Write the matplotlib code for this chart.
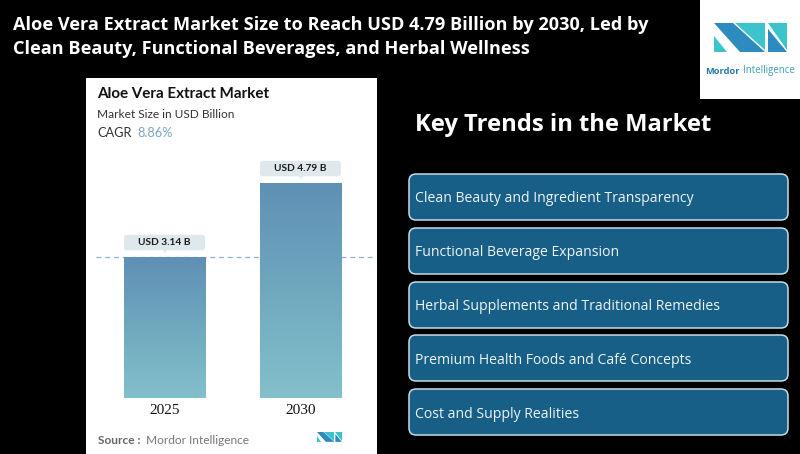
import matplotlib
matplotlib.use('Agg')
import numpy as np
import matplotlib.pyplot as plt
from matplotlib.patches import FancyBboxPatch, Polygon, Rectangle
from matplotlib.colors import LinearSegmentedColormap
from matplotlib.transforms import IdentityTransform

W, H = 800, 454

years = ['2025', '2030']
sizes = [3.14, 4.79]
size_labels = ['USD 3.14 B', 'USD 4.79 B']
trends = [
    'Clean Beauty and Ingredient Transparency',
    'Functional Beverage Expansion',
    'Herbal Supplements and Traditional Remedies',
    'Premium Health Foods and Café Concepts',
    'Cost and Supply Realities',
]
title_lines = [
    'Aloe Vera Extract Market Size to Reach USD 4.79 Billion by 2030, Led by',
    'Clean Beauty, Functional Beverages, and Herbal Wellness',
]
box_tops = [174, 228, 282, 335, 389]

fig = plt.figure(figsize=(W / 100, H / 100), dpi=100, facecolor='black')

# page layer, in image pixels
bg = fig.add_axes([0, 0, 1, 1], zorder=0)
bg.set_xlim(0, W)
bg.set_ylim(H, 0)
bg.axis('off')


def draw_logo(x0, y0, s):
    # logo shapes on a 0-73 x 0-29 grid
    dark, teal = '#2e8bc0', '#3cc4cc'
    shapes = [
        ([(0, 13), (0, 29), (13, 29)], teal),
        ([(21, 0), (51, 0), (51, 27)], teal),
        ([(0, 0), (19, 0), (51, 29), (26, 29)], dark),
        ([(54, 0), (73, 0), (73, 27)], teal),
        ([(54, 6), (73, 29), (54, 29)], dark),
    ]
    for pts, c in shapes:
        bg.add_patch(Polygon([(x0 + px * s, y0 + py * s) for px, py in pts], fc=c, ec='none'))


# white card and logo box
bg.add_patch(Rectangle((86, 78), 291, 376, fc='white', ec='none'))
bg.add_patch(Rectangle((700, 0), 100, 99, fc='white', ec='none'))
draw_logo(714, 23, 1.0)
bg.text(740, 71, 'Mordor', color='#2478a8', fontsize=6.7, fontweight='bold', family='Open Sans',
        ha='right', va='center')
bg.text(743, 71, 'Intelligence', color='#3a9fb8', fontsize=6.9, family='Open Sans', ha='left', va='center')
draw_logo(317, 432, 0.34)

for i, line in enumerate(title_lines):
    bg.text(13, 25 + i * 24, line, color='white', fontsize=13.05, fontweight='bold', family='Open Sans',
            va='center', ha='left')

bg.text(97, 94, 'Aloe Vera Extract Market', color='#111111', fontsize=10.9, fontweight='bold', family='Lato', va='center')
bg.text(97, 115, 'Market Size in USD Billion', color='#333333', fontsize=8.6, family='Lato', va='center')
bg.text(97, 133, 'CAGR', color='#333333', fontsize=9.2, family='Lato', va='center')
bg.text(137, 133, '8.86%', color='#7aa6c2', fontsize=9.2, family='Lato', va='center')
bg.text(98, 440, 'Source :', color='#666666', fontsize=8.6, fontweight='bold', family='Lato', va='center')
bg.text(146, 440, 'Mordor Intelligence', color='#777777', fontsize=8.6, family='Lato', va='center')

bg.text(415, 125, 'Key Trends in the Market', color='white', fontsize=17.1, fontweight='bold',
        family='Open Sans', va='center')

for top, label in zip(box_tops, trends):
    bg.add_patch(FancyBboxPatch((409, top), 379, 46, boxstyle='round,pad=0,rounding_size=7',
                                fc='#175f86', ec='#c5dbe6', lw=1.1))
    bg.text(415, top + 25, label, color='#eef5f9', fontsize=10.1, family='Open Sans', va='center')

# bar chart, axes spans the card down to the bar baseline
ax = fig.add_axes([86 / W, (H - 398) / H, 291 / W, (398 - 78) / H], zorder=1)
ax.patch.set_alpha(0)
for s in ax.spines.values():
    s.set_visible(False)
ax.set_yticks([])
ax.set_xticks(range(len(years)))
ax.set_xticklabels(years, family='Liberation Serif', fontsize=11, color='#111111')
ax.tick_params(axis='x', length=0, pad=4)

ax.plot([-0.51, 1.52], [sizes[0], sizes[0]], color='#8fb4cd', lw=0.9, dashes=(4, 3), zorder=1)

bars = ax.bar(range(len(years)), sizes, width=0.603, color='none', zorder=2)
cmap = LinearSegmentedColormap.from_list('bar', ['#5f90b5', '#82c0ca'])
for b in bars:
    x0, w, h = b.get_x(), b.get_width(), b.get_height()
    grad = np.linspace(0, 1, 128).reshape(-1, 1)
    ax.imshow(grad, cmap=cmap, aspect='auto', extent=(x0, x0 + w, 0, h), origin='upper', zorder=2)
ax.set_xlim(-0.581, 1.559)
ax.set_ylim(0, 7.14)

# value pills sit a fixed pixel distance above each bar
for i, (v, label) in enumerate(zip(sizes, size_labels)):
    cx, cy = ax.transData.transform((i, v))
    ax.add_patch(FancyBboxPatch((cx - 41, cy + 7), 81, 15.5, boxstyle='round,pad=0,rounding_size=3',
                                fc='#dfe8ec', ec='none', transform=IdentityTransform(), clip_on=False, zorder=3))
    ax.add_patch(Polygon([(cx - 2, cy + 7), (cx + 2, cy + 7), (cx, cy + 4)], fc='#dfe8ec', ec='none',
                         transform=IdentityTransform(), clip_on=False, zorder=3))
    ax.text(cx - 0.5, cy + 15, label, color='#1a1a1a', fontsize=7.3, fontweight='bold', family='Lato',
            ha='center', va='center', transform=IdentityTransform(), zorder=4)

fig.savefig('out.png', dpi=100, facecolor='black')
